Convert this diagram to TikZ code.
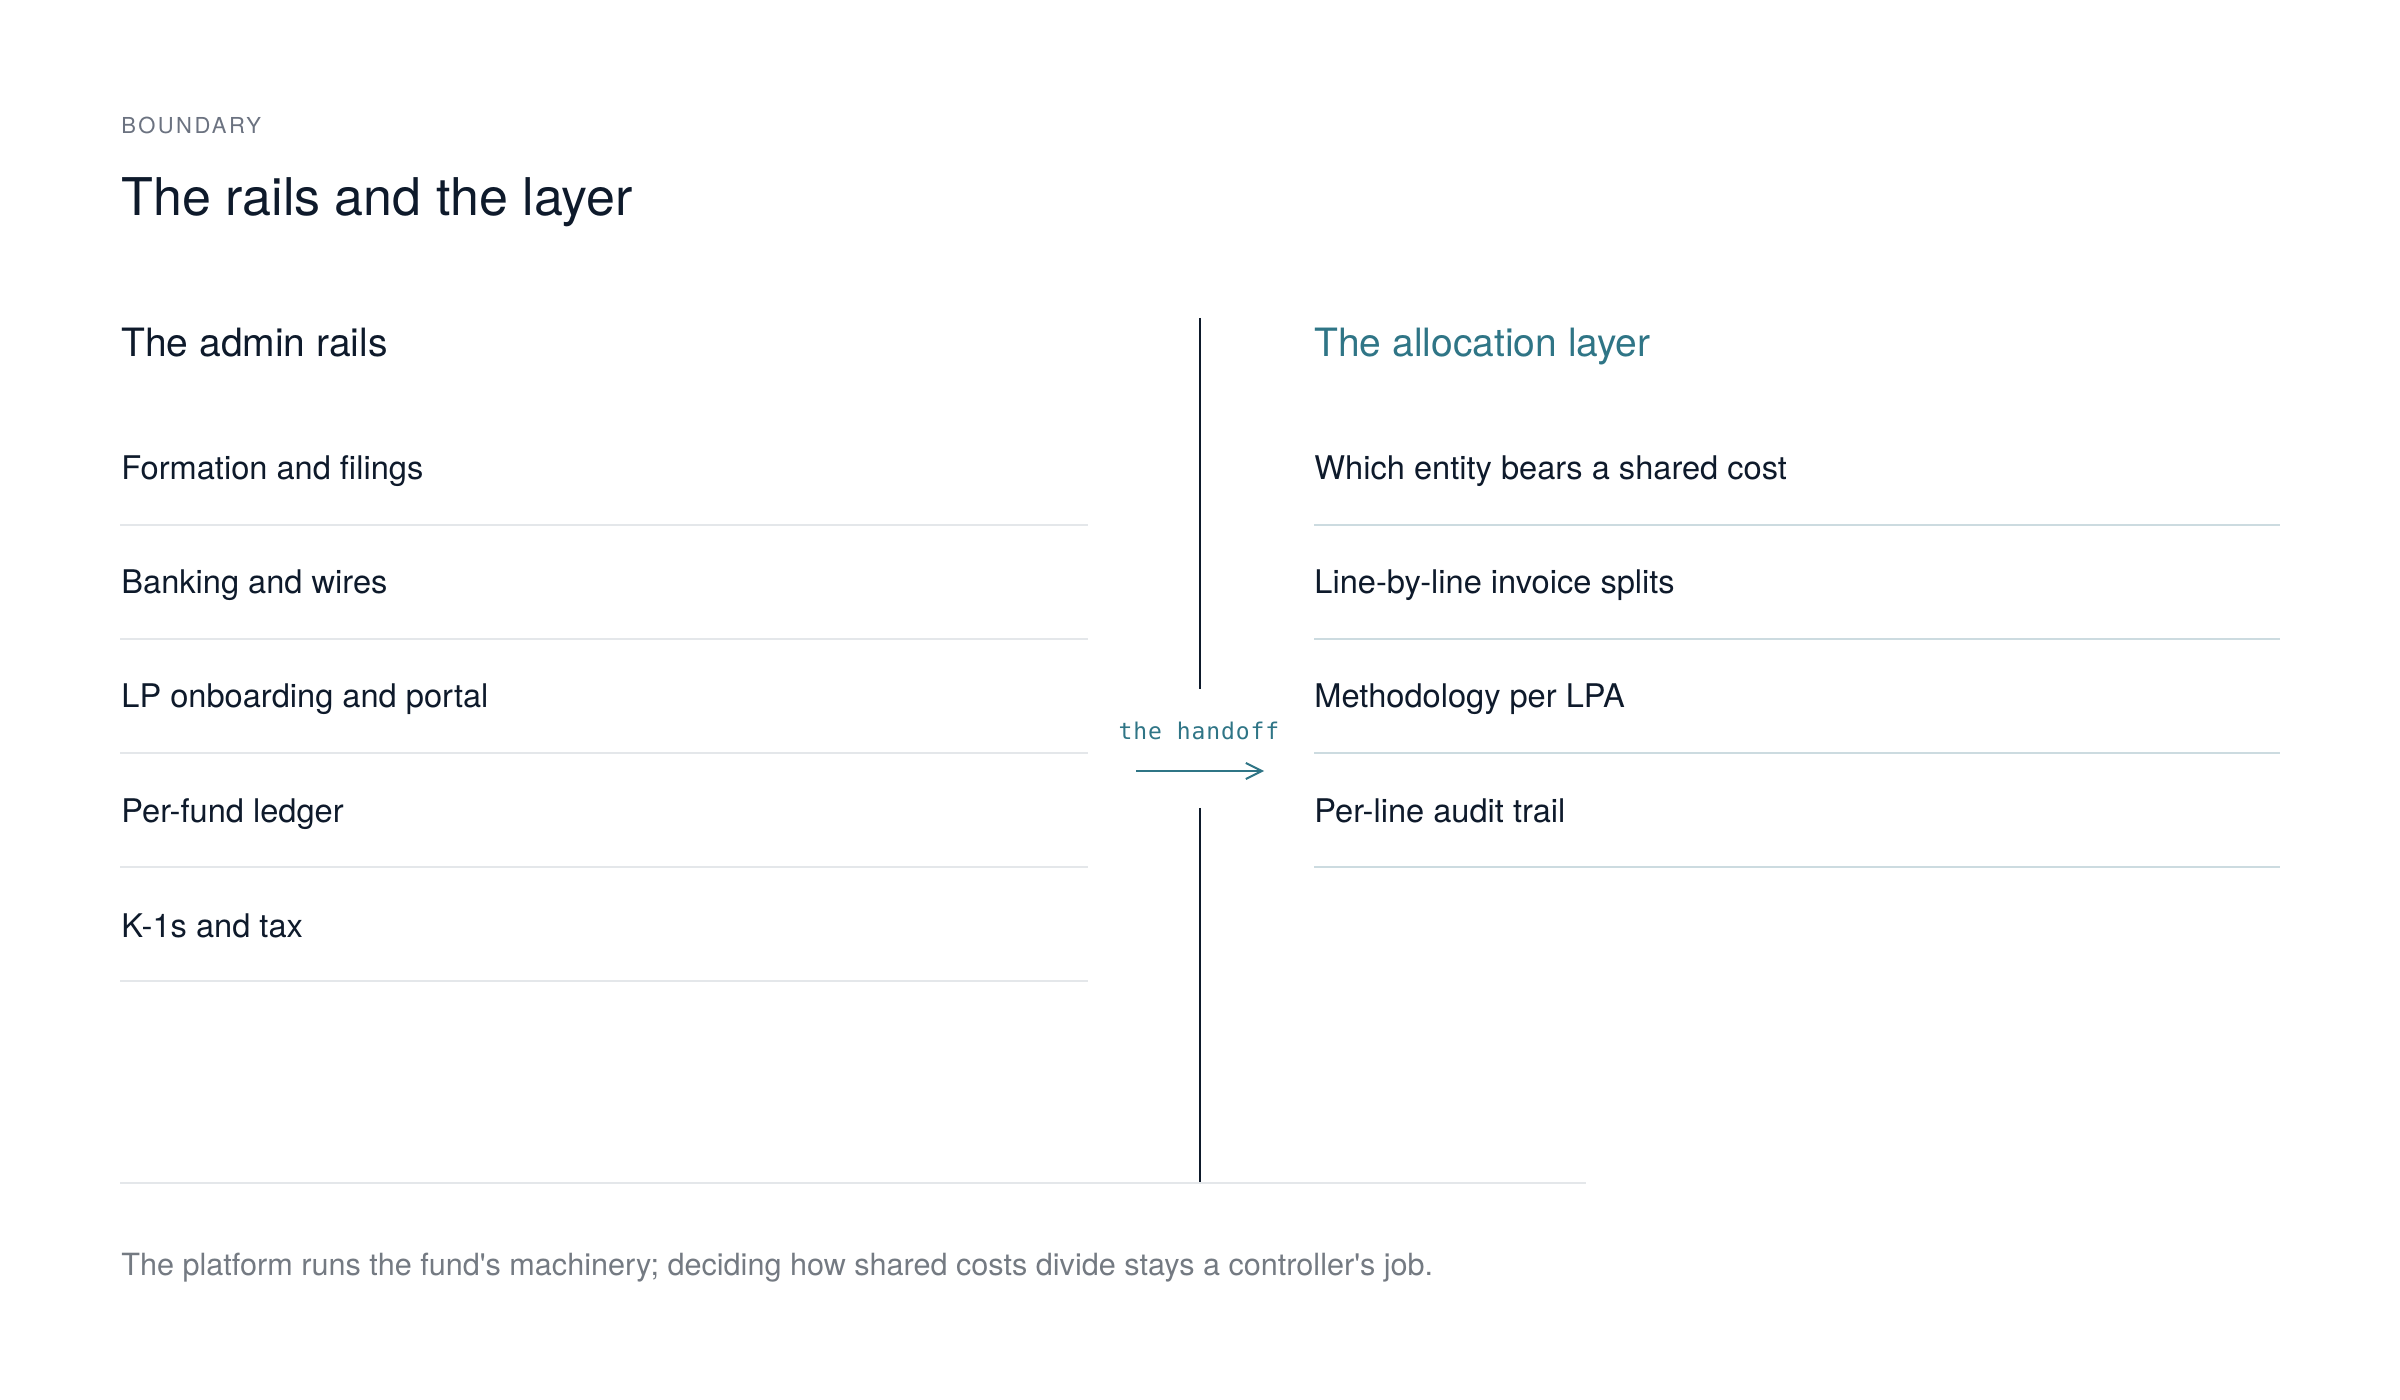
\documentclass[tikz,border=0pt]{standalone}
\usepackage{fontspec}
\setmainfont{TeX Gyre Heros}
\setmonofont{DejaVu Sans Mono}
\usetikzlibrary{arrows.meta,positioning}
\definecolor{ink}{HTML}{0E1A2B}
\definecolor{muted}{HTML}{6B7280}
\definecolor{note}{HTML}{747A82}
\definecolor{teal}{HTML}{2F7586}
\definecolor{railgrey}{HTML}{E4E7EA}
\definecolor{layerblue}{HTML}{CCDBE0}
\tikzset{
    txt/.style = {anchor=base west, inner sep=0pt, text=ink},
    eyebrow/.style = {txt, text=muted, font=\fontsize{11}{13}\selectfont\addfontfeature{LetterSpace=11}},
    bigtitle/.style = {txt, font=\fontsize{26}{30}\selectfont},
    colhead/.style = {txt, font=\fontsize{19.5}{23}\selectfont},
    rowtext/.style = {txt, font=\fontsize{16.3}{19}\selectfont},
    railrule/.style = {draw=railgrey, line width=1pt},
    layerrule/.style = {draw=layerblue, line width=1pt},
    divider/.style = {draw=ink, line width=1.2pt},
    handarrow/.style = {draw=teal, line width=1pt, -{Straight Barb[length=8pt,width=8pt,line width=1pt]}}
}

\begin{document}
\begin{tikzpicture}[x=0.5pt, y=-0.5pt]
        \useasboundingbox (0,0) rectangle (2400,1400);
        % heading
        \node [eyebrow] (kicker) at (121,134) {BOUNDARY};
        \node [bigtitle] (title) at (121,216) {The rails and the layer};
        % left column
        \node [colhead] (railhead) at (121,357) {The admin rails};
        \node [rowtext] (rail1) at (121,480) {Formation and filings};
        \node [rowtext] (rail2) at (121,594) {Banking and wires};
        \node [rowtext] (rail3) at (121,708) {LP onboarding and portal};
        \node [rowtext] (rail4) at (121,823) {Per-fund ledger};
        \node [rowtext] (rail5) at (121,937) {K-1s and tax};
        \draw [railrule] (120,525) coordinate (r1a) -- (1088,525) coordinate (r1b);
        \draw [railrule] (120,639) coordinate (r2a) -- (1088,639) coordinate (r2b);
        \draw [railrule] (120,753) coordinate (r3a) -- (1088,753) coordinate (r3b);
        \draw [railrule] (120,867) coordinate (r4a) -- (1088,867) coordinate (r4b);
        \draw [railrule] (120,981) coordinate (r5a) -- (1088,981) coordinate (r5b);
        % right column
        \node [colhead, text=teal] (layerhead) at (1314,357) {The allocation layer};
        \node [rowtext] (layer1) at (1314,480) {Which entity bears a shared cost};
        \node [rowtext] (layer2) at (1314,594) {Line-by-line invoice splits};
        \node [rowtext] (layer3) at (1314,708) {Methodology per LPA};
        \node [rowtext] (layer4) at (1314,823) {Per-line audit trail};
        \draw [layerrule] (1314,525) coordinate (l1a) -- (2280,525) coordinate (l1b);
        \draw [layerrule] (1314,639) coordinate (l2a) -- (2280,639) coordinate (l2b);
        \draw [layerrule] (1314,753) coordinate (l3a) -- (2280,753) coordinate (l3b);
        \draw [layerrule] (1314,867) coordinate (l4a) -- (2280,867) coordinate (l4b);
        % the boundary
        \coordinate (divtop) at (1200,318);
        \coordinate (divgapa) at (1200,689);
        \coordinate (divgapb) at (1200,808);
        \coordinate (divbot) at (1200,1182);
        \draw [divider] (divtop) -- (divgapa);
        \draw [divider] (divgapb) -- (divbot);
        \node [anchor=base, inner sep=0pt, text=teal, font=\ttfamily\fontsize{11.5}{14}\selectfont\addfontfeature{LetterSpace=4}] (handoff) at (1199,740) {the handoff};
        \coordinate (handfrom) at (1136,771);
        \coordinate (handto) at (1264,771);
        \draw [handarrow] (handfrom) -- (handto);
        % footer
        \draw [railrule] (120,1183) coordinate (foota) -- (1586,1183) coordinate (footb);
        \node [txt, text=note, font=\fontsize{15.3}{18}\selectfont] (note) at (121,1275) {The platform runs the fund\textquotesingle s machinery; deciding how shared costs divide stays a controller\textquotesingle s job.};
    \end{tikzpicture}
\end{document}
